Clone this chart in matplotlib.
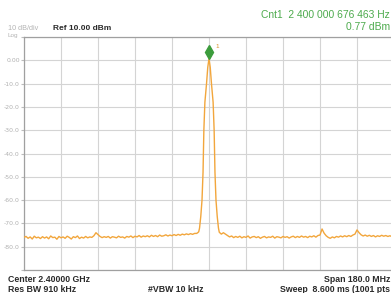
import numpy as np
import matplotlib
matplotlib.use("Agg")
import matplotlib.pyplot as plt
import matplotlib.transforms as mtransforms

# ---- data (frequency offsets from centre in MHz, level in dBm) ----
center_ghz = 2.4
span_mhz = 180.0
ref_level = 10.0
db_per_div = 10.0

left_freq = np.arange(-90, -6, 1.0)
left_level = [-76.0, -75.6, -76.4, -75.8, -76.7, -75.5, -76.2, -75.9, -76.5, -75.7,
              -76.3, -75.8, -76.6, -75.4, -76.1, -75.9, -76.8, -75.6, -76.2, -75.8,
              -76.4, -75.5, -76.0, -76.7, -75.7, -76.1, -75.4, -76.5, -75.9, -76.3,
              -75.6, -76.2, -75.8, -76.0, -75.3, -74.0, -74.8, -75.6, -76.1, -75.7,
              -76.0, -75.6, -76.3, -75.7, -75.9, -76.2, -75.5, -76.0, -75.8, -76.3,
              -75.6, -75.9, -75.4, -76.1, -75.5, -75.8, -75.2, -75.9, -75.4, -75.7,
              -75.3, -75.8, -75.1, -75.6, -75.2, -75.7, -75.0, -75.5, -75.3, -74.9,
              -75.4, -75.0, -75.3, -74.8, -75.2, -74.7, -75.1, -74.6, -74.9, -74.5,
              -74.8, -74.4, -74.7, -74.3]

peak_freq = [-6.0, -5.5, -5.0, -4.6, -4.0, -3.4, -2.9, -2.5, -2.0, -1.2, -0.6, 0.0,
             0.6, 1.2, 2.0, 2.5, 2.9, 3.4, 4.0, 4.6, 5.0, 5.5, 6.0]
peak_level = [-74.3, -74.0, -73.6, -72.0, -67.0, -60.0, -48.0, -30.0, -18.0, -10.0, -3.0, 0.77,
              -3.0, -10.0, -18.0, -30.0, -48.0, -60.0, -67.0, -72.0, -73.8, -74.2, -74.6]

right_freq = np.arange(7, 91, 1.0)
right_level = [-74.0, -74.6, -75.2, -75.8, -75.4, -76.1, -75.6, -76.0, -75.5, -76.2,
               -75.7, -76.0, -75.4, -76.3, -75.8, -75.6, -76.1, -75.7, -76.4, -75.9,
               -75.6, -76.2, -75.8, -76.0, -75.5, -76.3, -75.7, -75.9, -76.2, -75.6,
               -76.0, -75.7, -76.3, -75.8, -75.5, -76.1, -75.6, -76.0, -75.4, -75.9,
               -75.6, -76.1, -75.5, -75.8, -75.3, -75.9, -75.2, -75.0, -72.4, -74.2,
               -75.3, -76.0, -76.4, -75.8, -76.2, -75.6, -75.9, -75.4, -75.8, -75.3,
               -75.7, -75.2, -75.6, -75.0, -74.6, -72.8, -74.0, -74.9, -75.4, -75.0,
               -75.5, -75.1, -75.6, -75.2, -75.8, -75.3, -75.6, -75.1, -75.5, -75.2,
               -75.6, -75.3, -75.7, -75.4]

marker_freq = 0.0
marker_level = 0.77
ytick_labels = ["0.00", "-10.0", "-20.0", "-30.0", "-40.0", "-50.0", "-60.0", "-70.0", "-80.0"]

freq = np.concatenate([left_freq, peak_freq, right_freq])
level = np.concatenate([left_level, peak_level, right_level])

# ---- figure ----
W, H = 391, 293
fig = plt.figure(figsize=(W / 100, H / 100), dpi=100)
fig.patch.set_facecolor("white")
ax = fig.add_axes([24 / W, (H - 270) / H, 370 / W, 233 / H])

trace_color = "#f2a63c"
ax.plot(freq, level, color=trace_color, lw=1.0, zorder=3)

ax.set_xlim(-span_mhz / 2, span_mhz / 2)
ax.set_ylim(ref_level - 10 * db_per_div, ref_level)
ax.set_xticks(np.linspace(-90, 90, 11))
ax.set_yticks(np.arange(ref_level - 10 * db_per_div, ref_level + 0.1, db_per_div))
ax.grid(True, color="#d4d4d4", lw=0.8, zorder=0)
ax.tick_params(axis="x", length=0, labelbottom=False)
ax.tick_params(axis="y", length=2, color="#bdbdbd", pad=1, labelsize=4.4, labelcolor="#b0b0b0")
yt = ax.get_yticks()
ax.set_yticklabels(["" if (v > 0.5 or v < -85) else ytick_labels[int(round(-v / 10))] for v in yt])
for s in ax.spines.values():
    s.set_color("#a0a0a0")
    s.set_linewidth(0.9)

# marker
off = mtransforms.offset_copy(ax.transData, fig=fig, x=0, y=7, units="dots")
ax.plot([marker_freq], [marker_level], marker="d", ms=7.5, color="#3c9c3c",
        mec="#3c9c3c", transform=off, zorder=5, clip_on=False)
off2 = mtransforms.offset_copy(ax.transData, fig=fig, x=6, y=11, units="dots")
ax.text(marker_freq, marker_level, "1", transform=off2, fontsize=4.5,
        color="#d8902a", family="Liberation Sans", zorder=5)

# ---- annotations ----
def ftext(x, y, s, **kw):
    fig.text(x / W, 1 - y / H, s, **kw)

gray = "#b4b4b4"
ftext(8, 29, "10 dB/div", fontsize=5.2, color=gray, family="Liberation Sans", va="center")
ftext(8, 35, "Log", fontsize=4.6, color=gray, family="Liberation Sans", va="center")
ftext(53, 28, "Ref 10.00 dBm", fontsize=6.0, color="#2a2a2a", weight="bold",
      family="Liberation Sans", va="center")

green = "#4caa4c"
ftext(390, 15, "Cnt1  2 400 000 676 463 Hz", fontsize=7.4, color=green,
      family="Liberation Sans", ha="right", va="center")
ftext(390, 27, "0.77 dBm", fontsize=7.4, color=green, family="Liberation Sans",
      ha="right", va="center")

dark = "#2a2a2a"
fs = 6.3
ftext(8, 279, "Center 2.40000 GHz", fontsize=fs, color=dark, weight="bold",
      family="Liberation Sans", va="center")
ftext(8, 289, "Res BW 910 kHz", fontsize=fs, color=dark, weight="bold",
      family="Liberation Sans", va="center")
ftext(148, 289, "#VBW 10 kHz", fontsize=fs, color=dark, weight="bold",
      family="Liberation Sans", va="center")
ftext(390, 279, "Span 180.0 MHz", fontsize=fs, color=dark, weight="bold",
      family="Liberation Sans", ha="right", va="center")
ftext(390, 289, "Sweep  8.600 ms (1001 pts", fontsize=fs, color=dark, weight="bold",
      family="Liberation Sans", ha="right", va="center")

fig.savefig("out.png", dpi=100, facecolor="white")
